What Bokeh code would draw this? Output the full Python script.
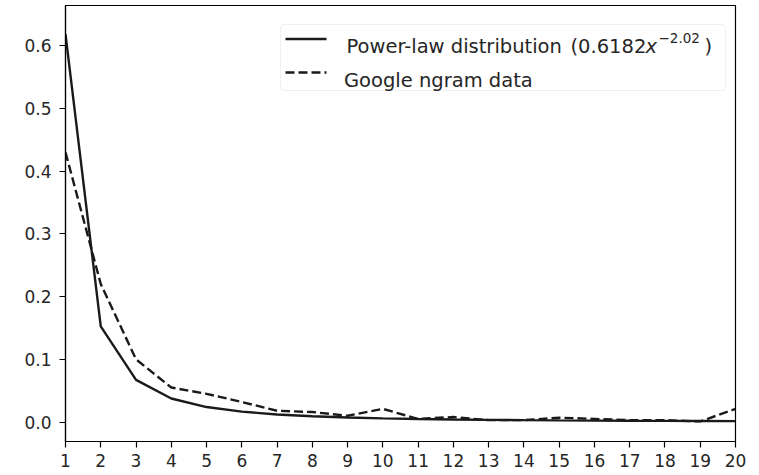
from bokeh.plotting import figure
from bokeh.models import (Range1d, FixedTicker, PrintfTickFormatter, Label,
                          BoxAnnotation, Arrow, ColumnDataSource)
from bokeh.embed import file_html
from bokeh.resources import INLINE

# ---- data ----
x_vals = [1, 2, 3, 4, 5, 6, 7, 8, 9, 10, 11, 12, 13, 14, 15, 16, 17, 18, 19, 20]
power_law = [0.6182, 0.1524, 0.0672, 0.0376, 0.0239, 0.0166, 0.0121, 0.0093,
             0.0073, 0.0059, 0.0049, 0.0041, 0.0035, 0.0030, 0.0026, 0.0023,
             0.0020, 0.0018, 0.0016, 0.0015]
ngram = [0.430, 0.220, 0.100, 0.055, 0.045, 0.032, 0.018, 0.016, 0.010, 0.021,
         0.005, 0.008, 0.003, 0.003, 0.007, 0.005, 0.003, 0.003, 0.001, 0.021]
x_ticks = list(range(1, 21))
y_ticks = [0.0, 0.1, 0.2, 0.3, 0.4, 0.5, 0.6]
legend_labels = ["Power-law distribution", "Google ngram data"]

W, H = 759, 475
FL, FR, FT, FB = 65, 735, 5, 441   # frame edges in page pixels

p = figure(width=W, height=H, output_backend="svg", toolbar_location=None,
           x_range=Range1d(1, 20), y_range=Range1d(-0.031, 0.664),
           min_border_left=FL, min_border_right=W - FR,
           min_border_top=FT, min_border_bottom=H - FB)
p.grid.visible = False
p.outline_line_color = "black"
p.outline_line_width = 1.2
p.background_fill_color = "white"
p.border_fill_color = "white"

src = ColumnDataSource(dict(x=x_vals, pl=power_law, ng=ngram))
p.line("x", "pl", source=src, line_color="#1a1a1a", line_width=2.4)
p.line("x", "ng", source=src, line_color="#1a1a1a", line_width=2.4,
       line_dash="9 4")

for ax in (p.xaxis[0], p.yaxis[0]):
    ax.axis_line_color = "black"
    ax.axis_line_width = 1.2
    ax.major_tick_line_color = "black"
    ax.major_tick_line_width = 1.2
    ax.major_tick_out = 6
    ax.major_tick_in = 0
    ax.minor_tick_line_color = None
    ax.major_label_text_font = "DejaVu Sans"
    ax.major_label_text_font_size = "17px"
    ax.major_label_text_color = "#262626"

p.xaxis.ticker = FixedTicker(ticks=x_ticks)
p.yaxis.ticker = FixedTicker(ticks=y_ticks)
p.yaxis.formatter = PrintfTickFormatter(format="%.1f")
p.xaxis.major_label_standoff = 6
p.yaxis.major_label_standoff = 8


# ---- legend (screen units relative to frame: x from left, y up from bottom) ----
def sx(px):
    return px - FL


def sy(py):
    return FB - py


p.add_layout(BoxAnnotation(left=sx(280), right=sx(725), top=sy(24), bottom=sy(90),
                           left_units="screen", right_units="screen",
                           top_units="screen", bottom_units="screen",
                           fill_color="white", fill_alpha=0.85,
                           line_color="#cccccc", line_width=1.2,
                           border_radius=4))

p.add_layout(Arrow(end=None, x_start=sx(285), y_start=sy(38.5), x_end=sx(326),
                   y_end=sy(38.5), start_units="screen", end_units="screen",
                   line_color="#1a1a1a", line_width=2.4))
p.add_layout(Arrow(end=None, x_start=sx(285), y_start=sy(72), x_end=sx(326),
                   y_end=sy(72), start_units="screen", end_units="screen",
                   line_color="#1a1a1a", line_width=2.4, line_dash="9 4"))


def lab(text, px, py, size="19.5px", style="normal"):
    p.add_layout(Label(x=sx(px), y=sy(py), x_units="screen", y_units="screen",
                       text=text, text_font="DejaVu Sans", text_font_size=size,
                       text_font_style=style, text_color="#262626",
                       text_baseline="alphabetic", text_align="left"))


lab(legend_labels[0], 346, 45.5)
lab("(0.6182", 570, 45.5)
lab("x", 645, 45.5, style="italic")
lab("\u22122.02", 658, 37.5, size="13.5px")
lab(")", 704, 45.5)
lab(legend_labels[1], 343.5, 79.5)

open("out.html", "w").write(file_html(p, INLINE))
